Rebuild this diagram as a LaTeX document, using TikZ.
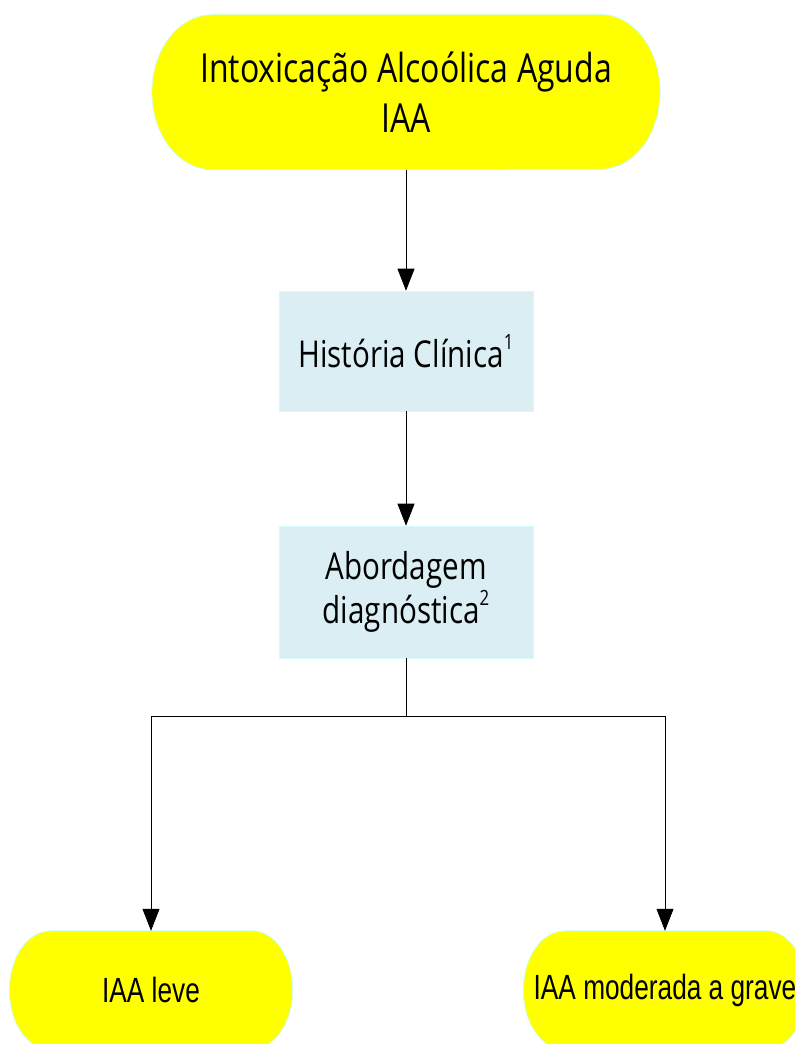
\documentclass[tikz,border=0pt]{standalone}
\usepackage{fontspec}
\usetikzlibrary{arrows.meta,backgrounds}

\newfontfamily\condsans[FakeStretch=0.8]{Open Sans}
\newfontfamily\narrowsans[FakeStretch=0.75]{Liberation Sans}

\definecolor{pillyellow}{HTML}{FFFF00}
\definecolor{pilledge}{HTML}{CCFFFF}
\definecolor{boxblue}{HTML}{DAEEF3}

% yellow terminal drawn behind a named node: node, x radius, y radius
\newcommand{\pillback}[3]{%
  \path[pill] ([xshift=#2pt]#1.north west) -- ([xshift=-#2pt]#1.north east)
    arc[start angle=90, end angle=-90, x radius=#2pt, y radius=#3pt]
    -- ([xshift=#2pt]#1.south west)
    arc[start angle=270, end angle=90, x radius=#2pt, y radius=#3pt] -- cycle;}
% footnote number, small and raised to cap height
\newcommand{\notemark}[1]{\raisebox{0.5em}{\fontsize{21}{21}\selectfont #1}}

\tikzset{
  pill/.style={fill=pillyellow, draw=pilledge, line width=0.8pt},
  terminal/.style={rectangle, align=center, inner sep=0pt},
  stepbox/.style={rectangle, fill=boxblue, draw=boxblue!70!cyan!40, line width=0.6pt,
    align=center, minimum width=254pt, font=\condsans\fontsize{37}{44}\selectfont},
  link/.style={line width=0.8pt, black},
  arrow/.style={link, -{Triangle[width=17pt, length=22pt]}}
}

\begin{document}
\begin{tikzpicture}[x=1pt, y=-1pt]
  \useasboundingbox (0,0) rectangle (795,1044);

  % nodes
  \node[terminal, minimum width=508pt, minimum height=155pt,
        font=\condsans\fontsize{40}{50}\selectfont] (iaa) at (406,92)
        {Intoxicação Alcoólica Aguda\\IAA};
  \node[stepbox, minimum height=120pt] (hist) at (406,351)
        {História Clínica\notemark{1}};
  \node[stepbox, minimum height=132pt] (abord) at (406,592)
        {Abordagem\\diagnóstica\notemark{2}};
  \node[terminal, minimum width=283pt, minimum height=118pt,
        font=\narrowsans\fontsize{35}{42}\selectfont] (leve) at (151,990)
        {IAA leve};
  \node[terminal, minimum width=283pt, minimum height=118pt,
        font=\narrowsans\fontsize{35}{42}\selectfont] (grave) at (665,990)
        {IAA moderada a grave};
  \coordinate (split) at (406,716);

  % yellow shapes behind the text
  \begin{scope}[on background layer]
    \pillback{iaa}{60}{77.5}
    \pillback{leve}{40}{59}
    \pillback{grave}{40}{59}
  \end{scope}

  % connectors
  \draw[arrow] (iaa) -- (hist);
  \draw[arrow] (hist) -- (abord);
  \draw[link] (abord) -- (split);
  \draw[arrow] (split) -| (leve.north);
  \draw[arrow] (split) -| (grave.north);
\end{tikzpicture}
\end{document}
